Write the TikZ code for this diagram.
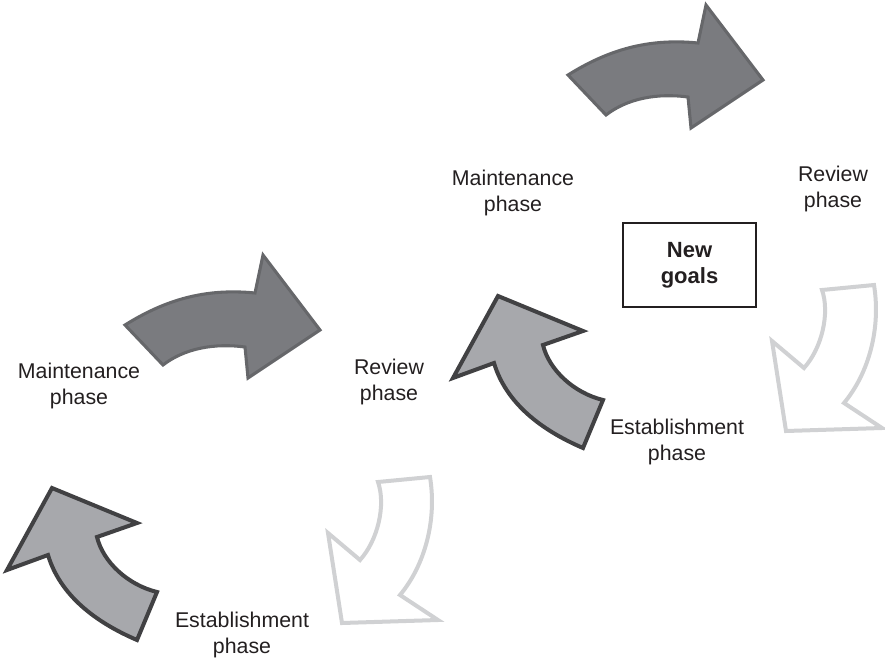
\documentclass[tikz,border=0pt]{standalone}
\usepackage{fontspec}
\setmainfont{Liberation Sans}

\definecolor{inkgray}{RGB}{35,31,32}
\definecolor{fwdfill}{RGB}{122,123,127}
\definecolor{fwdedge}{RGB}{102,103,106}
\definecolor{upfill}{RGB}{167,168,172}
\definecolor{upedge}{RGB}{65,65,67}
\definecolor{paleedge}{RGB}{208,209,211}

\tikzset{
  phaselabel/.style={align=center, inner sep=0pt, text=inkgray,
    font=\fontsize{16}{19.5}\selectfont},
  goalbox/.style={draw=inkgray, line width=1.1pt, align=center,
    minimum width=99.75pt, minimum height=63pt, inner sep=0pt, text=inkgray,
    font=\fontsize{16.5}{19.5}\selectfont\bfseries},
  forward arrow/.style={fill=fwdfill, draw=fwdedge, line width=2.3pt, line join=miter},
  return arrow/.style={fill=upfill, draw=upedge, line width=3pt, line join=miter},
  pale arrow/.style={fill=white, draw=paleedge, line width=3pt, line join=miter},
  % curved arrow pointing right (maintenance -> review)
  forwardpic/.pic={
    \path[forward arrow]
      (125,325) .. controls (165,300) and (205,288) .. (255,293)
      -- (263,255) -- (320,330) -- (248,378) -- (245,347)
      .. controls (215,343) and (185,348) .. (163,365) -- cycle;
  },
  % curved arrow pointing up-left (establishment -> maintenance)
  returnpic/.pic={
    \path[return arrow]
      (7,570) -- (52,488) -- (137,523) -- (97,537)
      .. controls (103,562) and (128,585) .. (157,592)
      -- (137,640)
      .. controls (95,622) and (60,595) .. (48,555) -- cycle;
  },
  % outlined arrow pointing down-left (review -> establishment)
  palepic/.pic={
    \path[pale arrow]
      (378,482) -- (430,477)
      .. controls (437,520) and (425,565) .. (400,595)
      -- (438,620) -- (342,623) -- (328,533) -- (360,560)
      .. controls (378,540) and (386,505) .. (378,482) -- cycle;
  }
}

\begin{document}
\begin{tikzpicture}[x=0.75pt, y=-0.75pt]
\useasboundingbox (0,0) rectangle (885,660);

% first cycle
\pic at (0,0) {forwardpic};
\pic at (0,0) {returnpic};
\pic at (0,0) {palepic};

% second cycle
\pic at (443,-250) {forwardpic};
\pic at (446,-192) {returnpic};
\pic at (444,-192) {palepic};

% phase labels
\node[phaselabel] (maintA) at (79,386) {Maintenance\\phase};
\node[phaselabel] (reviewA) at (389,382) {Review\\phase};
\node[phaselabel] (establA) at (242,635) {Establishment\\phase};

\node[phaselabel] (maintB) at (513,193) {Maintenance\\phase};
\node[phaselabel] (reviewB) at (833,189) {Review\\phase};
\node[phaselabel] (establB) at (677,442) {Establishment\\phase};

\node[goalbox] (goals) at (689.5,265) {New\\goals};
\end{tikzpicture}
\end{document}
